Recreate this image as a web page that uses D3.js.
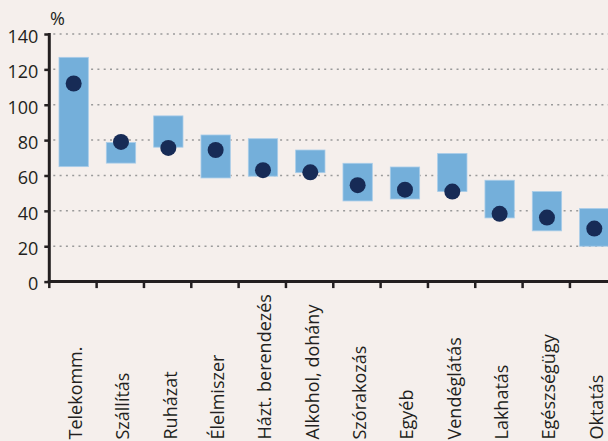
<!DOCTYPE html>
<html>
<head>
<meta charset="utf-8">
<script src="https://cdn.jsdelivr.net/npm/d3@7"></script>
<style>
  html, body { margin: 0; padding: 0; background: #f5efec; }
  svg { display: block; }
  text { font-family: "Open Sans", sans-serif; fill: #231f20; }
</style>
</head>
<body>
<svg id="chart" width="608" height="441"></svg>
<script>
const categories = ["Telekomm.", "Szállítás", "Ruházat", "Élelmiszer", "Házt. berendezés", "Alkohol, dohány", "Szórakozás", "Egyéb", "Vendéglátás", "Lakhatás", "Egészségügy", "Oktatás"];
const rangeLow  = [65, 67, 76, 58.6, 59.6, 61.6, 45.6, 46.7, 50.9, 36, 28.7, 20];
const rangeHigh = [126.8, 78.6, 93.7, 82.9, 80.8, 74.4, 66.9, 64.8, 72.4, 57.3, 50.9, 41.3];
const points    = [112, 79, 75.6, 74.4, 63, 61.8, 54.5, 52, 50.9, 38.3, 36.2, 30];
const yTicks = [0, 20, 40, 60, 80, 100, 120, 140];
const unitLabel = "%";

const svg = d3.select("#chart");
const W = 608, H = 441;
const left = 49.3, step = 47.33;
const x = d3.scaleBand().domain(categories).range([left, left + step * categories.length]).padding(0);
const y = d3.scaleLinear().domain([0, 140]).range([281.6, 34]);

svg.append("rect").attr("width", W).attr("height", H).attr("fill", "#f5efec");

// gridlines
svg.append("g").selectAll("line").data(yTicks.filter(d => d > 0)).join("line")
  .attr("x1", left + 4).attr("x2", W)
  .attr("y1", d => y(d)).attr("y2", d => y(d))
  .attr("stroke", "#9a9a9a").attr("stroke-width", 1.5)
  .attr("stroke-dasharray", "2,4.3");

// range bars
const bw = x.bandwidth() * 0.62;
svg.append("g").selectAll("rect").data(categories).join("rect")
  .attr("x", d => x(d) + x.bandwidth() / 2 - bw / 2 + 0.7)
  .attr("width", bw)
  .attr("y", (d, i) => y(rangeHigh[i]))
  .attr("height", (d, i) => y(rangeLow[i]) - y(rangeHigh[i]))
  .attr("fill", "#74afda")
  .attr("stroke", "#a9cde9").attr("stroke-width", 0.8);

// points
svg.append("g").selectAll("circle").data(categories).join("circle")
  .attr("cx", d => x(d) + x.bandwidth() / 2 + 0.7)
  .attr("cy", (d, i) => y(points[i]))
  .attr("r", 8)
  .attr("fill", "#172b56");

// y axis
const yAxis = d3.axisLeft(y).tickValues(yTicks).tickSize(5).tickPadding(6);
const gy = svg.append("g").attr("transform", `translate(${left},0)`).call(yAxis);
gy.select(".domain").remove();
gy.selectAll(".tick line").attr("stroke", "#231f20").attr("stroke-width", 2.5);
gy.selectAll(".tick text").attr("font-size", 18).attr("dy", "0.46em")
  .style("font-family", "'Open Sans', sans-serif").attr("fill", "#231f20");
svg.append("line").attr("x1", left).attr("x2", left).attr("y1", y(140) - 1).attr("y2", y(0) + 1.5)
  .attr("stroke", "#231f20").attr("stroke-width", 3);

// x axis
svg.append("line").attr("x1", left - 1.5).attr("x2", W).attr("y1", y(0)).attr("y2", y(0))
  .attr("stroke", "#231f20").attr("stroke-width", 3);
const bounds = categories.map(d => x(d)).concat([x.range()[1]]);
svg.append("g").selectAll("line").data(bounds).join("line")
  .attr("x1", d => d).attr("x2", d => d)
  .attr("y1", y(0)).attr("y2", y(0) + 6.5)
  .attr("stroke", "#231f20").attr("stroke-width", 2.5);

// category labels
svg.append("g").selectAll("text").data(categories).join("text")
  .attr("transform", d => `translate(${x(d) + x.bandwidth() / 2 + 9},439.5) rotate(-90)`)
  .attr("text-anchor", "start")
  .attr("font-size", 18)
  .text(d => d);

// unit label
svg.append("text").attr("x", 50).attr("y", 25).attr("font-size", 18).text(unitLabel);
</script>
</body>
</html>
